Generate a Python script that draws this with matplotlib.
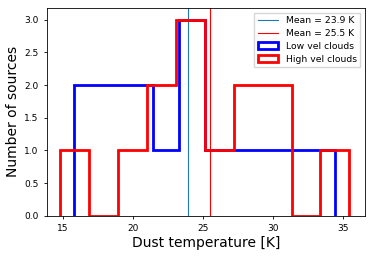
import numpy as np
import matplotlib
matplotlib.use('Agg')
import matplotlib.pyplot as plt

# Histogram bins and counts
low_edges = np.linspace(15.81, 34.43, 11)
low_counts = [2, 2, 2, 1, 3, 1, 1, 1, 1, 1]
high_edges = np.linspace(14.81, 35.43, 11)
high_counts = [1, 0, 1, 2, 3, 1, 2, 2, 0, 1]
mean_low = 23.9
mean_high = 25.5

fig = plt.figure(figsize=(3.74, 2.57), dpi=100)
ax = fig.add_axes([0.126, 0.16, 0.85, 0.809])

ax.axvline(mean_low, color='#1f77b4', lw=0.8, label='Mean = %.1f K' % mean_low)
ax.axvline(mean_high, color='red', lw=0.8, label='Mean = %.1f K' % mean_high)

low_centers = 0.5 * (low_edges[1:] + low_edges[:-1])
high_centers = 0.5 * (high_edges[1:] + high_edges[:-1])
ax.hist(low_centers, bins=low_edges, weights=low_counts, histtype='step',
        color='blue', lw=2, label='Low vel clouds')
ax.hist(high_centers, bins=high_edges, weights=high_counts, histtype='step',
        color='red', lw=2, label='High vel clouds')

ax.set_xlim(13.86, 36.55)
ax.set_ylim(0, 3.18)
ax.set_xticks([15, 20, 25, 30, 35])
ax.set_yticks(np.arange(0, 3.01, 0.5))
ax.tick_params(labelsize=6.5, length=2.5, width=0.6)
for s in ax.spines.values():
    s.set_linewidth(0.6)

ax.set_xlabel('Dust temperature [K]', fontsize=10, labelpad=2)
ax.set_ylabel('Number of sources', fontsize=10, labelpad=3)
ax.legend(loc='upper right', fontsize=6.7, handlelength=2.2, borderpad=0.4,
          labelspacing=0.4, fancybox=False, framealpha=0.8)

fig.savefig('out.png', dpi=100)
